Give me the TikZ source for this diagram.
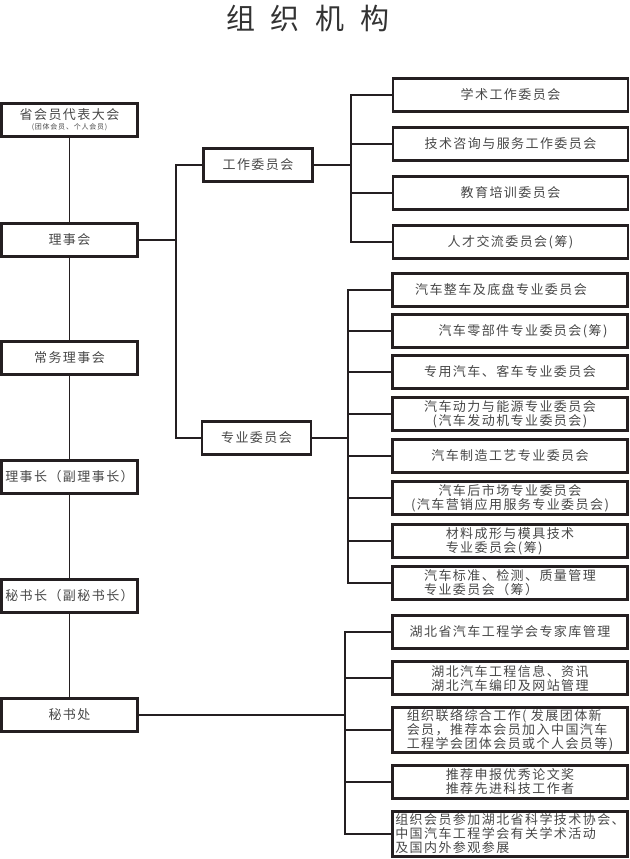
\documentclass[tikz,border=0pt]{standalone}
\usepackage{fontspec}
\setmainfont[LetterSpace=11]{Noto Sans CJK SC}
\newfontfamily\titlefont[LetterSpace=55]{Noto Sans CJK SC}
\usetikzlibrary{positioning}
\definecolor{ink}{rgb}{0.14,0.12,0.13}
\tikzset{
  orgbox/.style={draw=ink, line width=2.2bp, text=black!72, minimum height=33bp, inner sep=1.5bp, font=\fontsize{13bp}{14bp}\selectfont},
  leftbox/.style={orgbox, minimum width=136bp, align=center},
  midbox/.style={orgbox, minimum width=109bp},
  subbox/.style={orgbox, minimum width=235bp, align=center},
  tallbox/.style={subbox, minimum height=45bp, align=left},
  orgline/.style={draw=ink, line width=1.6bp}
}

\begin{document}
\begin{tikzpicture}[x=1bp,y=-1bp]
\useasboundingbox (0,0) rectangle (630,859);
\node[text=black!80, font=\titlefont\fontsize{29bp}{29bp}\selectfont] (title) at (308,18) {组织机构};

\node[leftbox] (dahui) at (69.5,120) {省会员代表大会\\[-4bp]{\fontsize{7bp}{7bp}\selectfont (团体会员、个人会员)}};
\node[leftbox] (lishihui) at (69.5,240) {理事会};
\node[leftbox] (changwu) at (69.5,358) {常务理事会};
\node[leftbox] (lishizhang) at (69.5,477) {理事长（副理事长）};
\node[leftbox] (mishuzhang) at (69.5,596) {秘书长（副秘书长）};
\node[leftbox] (mishuchu) at (69.5,715) {秘书处};

\node[midbox] (gongzuo) at (258,165) {工作委员会};
\node[midbox] (zhuanye) at (256.5,438) {专业委员会};

\node[subbox] (w1) at (510.5,95) {学术工作委员会};
\node[subbox] (w2) at (510.5,144) {技术咨询与服务工作委员会};
\node[subbox] (w3) at (510.5,193) {教育培训委员会};
\node[subbox] (w4) at (510.5,242) {人才交流委员会(筹)};

\node[subbox] (z1) at (510,290) {汽车整车及底盘专业委员会\hspace*{18bp}};
\node[subbox] (z2) at (510,331) {\hspace*{26bp}汽车零部件专业委员会(筹)};
\node[subbox] (z3) at (510,372) {专用汽车、客车专业委员会};
\node[subbox] (z4) at (510,414) {汽车动力与能源专业委员会\\(汽车发动机专业委员会)};
\node[subbox] (z5) at (510,456) {汽车制造工艺专业委员会};
\node[subbox] (z6) at (510,498) {汽车后市场专业委员会\\(汽车营销应用服务专业委员会)};
\node[subbox, align=left] (z7) at (510,541) {材料成形与模具技术\\专业委员会(筹)};
\node[subbox, align=left] (z8) at (510,583) {汽车标准、检测、质量管理\\专业委员会（筹）};

\node[subbox] (m1) at (510,632) {湖北省汽车工程学会专家库管理};
\node[subbox] (m2) at (510,678) {湖北汽车工程信息、资讯\\湖北汽车编印及网站管理};
\node[tallbox] (m3) at (510,730) {组织联络综合工作(\ 发展团体新\\会员，推荐本会员加入中国汽车\\工程学会团体会员或个人会员等)};
\node[subbox] (m4) at (510,782) {推荐申报优秀论文奖\\推荐先进科技工作者};
\node[tallbox] (m5) at (510,834) {组织会员参加湖北省科学技术协会、\\中国汽车工程学会有关学术活动\\及国内外参观参展};

\coordinate (busA) at (176,240);
\coordinate (busB) at (351,165);
\coordinate (busC) at (348,438);
\coordinate (busD) at (345,715);

\draw[orgline] (dahui) -- (lishihui) -- (changwu) -- (lishizhang) -- (mishuzhang) -- (mishuchu);
\draw[orgline] (lishihui.east) -- (busA);
\draw[orgline] (gongzuo.west) -| (busA) |- (zhuanye.west);

\draw[orgline] (gongzuo.east) -- (busB);
\foreach \i in {1,...,4}
	\draw[orgline] (busB) |- (w\i.west);

\draw[orgline] (zhuanye.east) -- (busC);
\foreach \i in {1,...,8}
	\draw[orgline] (busC) |- (z\i.west);

\draw[orgline] (mishuchu.east) -- (busD);
\foreach \i in {1,...,5}
	\draw[orgline] (busD) |- (m\i.west);

\end{tikzpicture}
\end{document}
